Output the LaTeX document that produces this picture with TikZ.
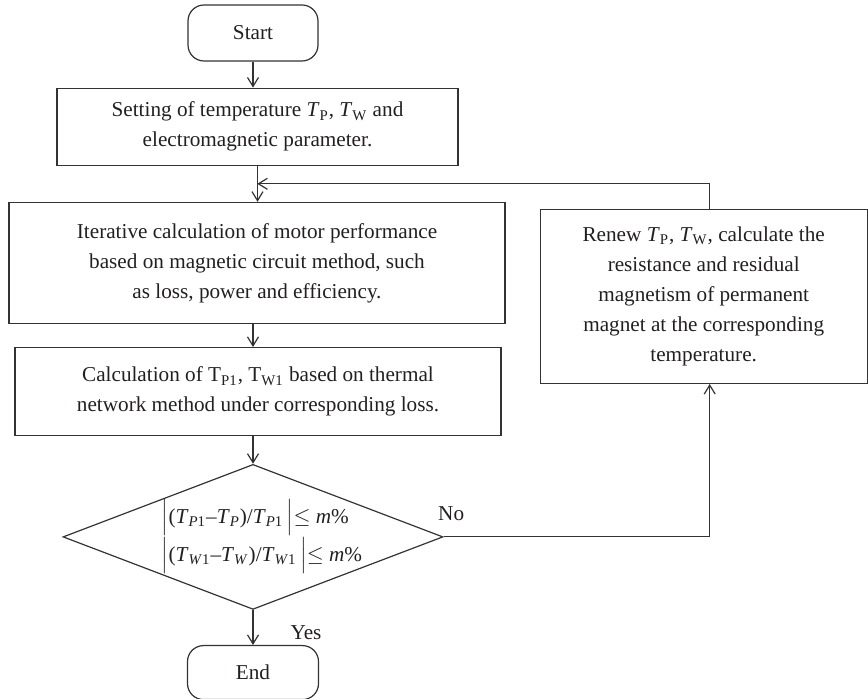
\documentclass[tikz,border=0pt]{standalone}
\usepackage{fontspec}
\setmainfont{Liberation Serif}
\usetikzlibrary{positioning,shapes.geometric,arrows.meta,calc}
\definecolor{linegray}{RGB}{51, 51, 51}
\definecolor{fontgray}{RGB}{35, 31, 32}
\newcommand{\Tsub}[1]{\textit{T}\textsubscript{#1}}

\begin{document}
\begin{tikzpicture}[node distance=13pt, >={Straight Barb[length=4.5pt,width=5.5pt]},
		every node/.style={font=\fontsize{10.6}{15}\selectfont, text=fontgray},
		term/.style={draw=linegray, line width=0.6pt, rectangle, rounded corners=8pt, minimum width=65pt, minimum height=28pt},
		proc/.style={draw=linegray, line width=0.6pt, rectangle, align=center, inner sep=2pt},
		check/.style={draw=linegray, line width=0.6pt, diamond, aspect=2.62, minimum width=190pt, minimum height=72.5pt, inner sep=-4pt, align=left},
		lbl/.style={inner sep=0pt},
		chainLine/.style={line width=0.6pt, ->, color=linegray},
		]
		\useasboundingbox (0,0) rectangle (434pt,-349.5pt);
		
		\node[term] (start) at (126.5pt,-16.5pt) {Start};
		
		\node[proc, below=13pt of start, xshift=2.25pt, minimum width=200.5pt, minimum height=38.5pt] (set)
		{Setting of temperature \Tsub{P}, \Tsub{W} and\\ electromagnetic parameter.};
		\node[proc, below=18pt of set, xshift=-0.25pt, minimum width=248pt, minimum height=60.5pt] (iter)
		{Iterative calculation of motor performance\\ based on magnetic circuit method, such\\ as loss, power and efficiency.};
		\node[proc, below=11.5pt of iter, xshift=0.5pt, minimum width=243pt, minimum height=44pt] (calc)
		{Calculation of T\textsubscript{P1}, T\textsubscript{W1} based on thermal\\ network method under corresponding loss.};
		
		\node[check, below=13.8pt of calc, xshift=-2.5pt] (test)
		{\hspace*{9pt}$\Big|$(\Tsub{\textit{P}1}--\Tsub{\textit{P}})/\Tsub{\textit{P}1}\,$\Big|{\leq}$ \textit{m}\%\\
		 \hspace*{9pt}$\Big|$(\Tsub{\textit{W}1}--\Tsub{\textit{W}})/\Tsub{\textit{W}1}\,$\Big|{\leq}$ \textit{m}\%};
		
		\node[term, below=17.5pt of test, minimum width=65.5pt, minimum height=27pt] (stop) {End};
		
		\node[proc, right=17pt of iter, yshift=-16.75pt, minimum width=163.5pt, minimum height=87pt] (renew)
		{Renew \Tsub{P}, \Tsub{W}, calculate the\\ resistance and residual\\ magnetism of permanent\\ magnet at the corresponding\\ temperature.};
		
		%	main chain
		\draw [chainLine] (start) -- (start |- set.north);
		\draw [chainLine] (set.south) -- (set.south |- iter.north);
		\draw [chainLine] (start |- iter.south) -- (start |- calc.north);
		\draw [chainLine] (test.north |- calc.south) -- (test.north);
		\draw [chainLine] (test) -- node[lbl, pos=0.83, anchor=base west, xshift=18.5pt] {Yes} (stop);
		
		%	loop back
		\draw [chainLine] (test.east) -| node[lbl, pos=0, anchor=base west, xshift=-3pt, yshift=8pt] {No} ([xshift=3pt]renew.south);
		\draw [chainLine] ([xshift=3pt]renew.north) |- ($(set.south)!0.5!(iter.north)$);
		
\end{tikzpicture}
\end{document}
